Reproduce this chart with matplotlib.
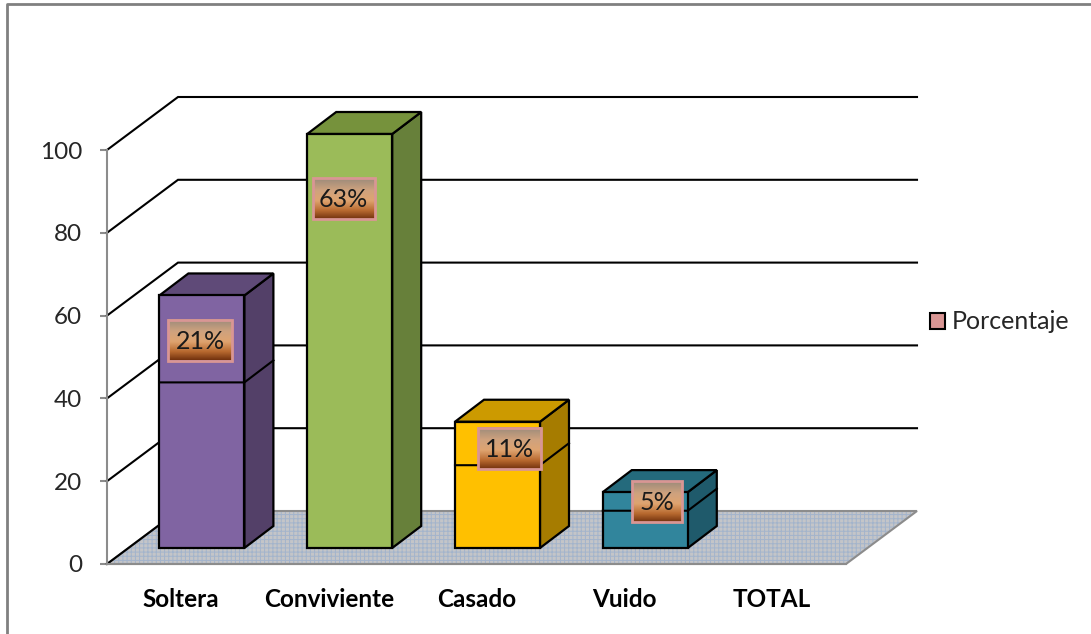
import numpy as np
import matplotlib
matplotlib.use('Agg')
import matplotlib.pyplot as plt
from matplotlib.patches import Polygon, Patch, Rectangle
from matplotlib.colors import LinearSegmentedColormap
from matplotlib.lines import Line2D

plt.rcParams['hatch.linewidth'] = 0.7
plt.rcParams['font.family'] = ['Lato', 'DejaVu Sans']

# valores
categorias = ['Soltera', 'Conviviente', 'Casado', 'Vuido', 'TOTAL']
inferior = [40, 100, 20, 9]
superior = [21, 0, 10.5, 4.5]
etiquetas = ['21%', '63%', '11%', '5%']
ticks_y = [0, 20, 40, 60, 80, 100]

colores = ['#8064a2', '#9bbb59', '#ffc000', '#31859c']
colores_arriba = ['#5f4a78', '#76923c', '#cc9a00', '#246a7c']
colores_lado = ['#534068', '#67803a', '#a67c00', '#1f5a6b']

W, H = 1091, 634
fig = plt.figure(figsize=(W / 100, H / 100), dpi=100)
ax = fig.add_axes([107 / W, 1 - 564 / H, 739 / W, 414 / H])
ax.set_xlim(0, 5)
ax.set_ylim(0, 100)

# pixeles a unidades de datos
PX = 5 / 739
PY = 100 / 414
prof_x, prof_y = 71 * PX, 53 * PY


def caja(i, v0, v1, ancho=85 * PX):
    x0 = i + 0.5 + 21 * PX - ancho / 2
    return x0, x0 + ancho, 16 * PY + v0, 16 * PY + v1


# suelo
suelo = [(0, 0), (5, 0), (5 + prof_x, prof_y), (prof_x, prof_y)]
ax.add_patch(Polygon(suelo, closed=True, facecolor='#c4c5c8', edgecolor='#a3b4cc', hatch='||||----',
                     lw=0, clip_on=False, zorder=1))
ax.add_patch(Polygon(suelo, closed=True, facecolor='none', edgecolor='#8c8c8c', lw=1.5,
                     clip_on=False, zorder=1.5))
ax.plot([0, prof_x], [0, prof_y], color='black', lw=1.5, clip_on=False, zorder=2)

# lineas de la pared
for v in ticks_y[1:]:
    ax.plot([0, prof_x, 5 + prof_x], [v, v + prof_y, v + prof_y], color='black', lw=1.5,
            clip_on=False, solid_joinstyle='miter', zorder=2)

# barras 3d
dx, dy = 29 * PX, 22 * PY
for i in range(len(inferior)):
    tope = inferior[i] + superior[i]
    x0, x1, y0, y1 = caja(i, 0, tope)
    ax.add_patch(Polygon([(x1, y0), (x1 + dx, y0 + dy), (x1 + dx, y1 + dy), (x1, y1)], closed=True,
                         facecolor=colores_lado[i], edgecolor='black', lw=1.6, clip_on=False, zorder=3))
    ax.add_patch(Polygon([(x0, y1), (x1, y1), (x1 + dx, y1 + dy), (x0 + dx, y1 + dy)], closed=True,
                         facecolor=colores_arriba[i], edgecolor='black', lw=1.6, clip_on=False, zorder=3))
    ax.add_patch(Rectangle((x0, y0), x1 - x0, y1 - y0, facecolor=colores[i], edgecolor='black',
                           lw=1.6, clip_on=False, zorder=3))
    if superior[i] > 0:
        ym = y0 + inferior[i]
        ax.plot([x0, x1, x1 + dx], [ym, ym, ym + dy], color='black', lw=1.5, clip_on=False, zorder=3.5)

# etiquetas con degradado
grad = LinearSegmentedColormap.from_list('g', [(0, '#9c8b7a'), (0.3, '#cfa27e'), (0.55, '#dfa470'),
                                               (0.8, '#b8692f'), (1, '#74330f')])
centro_x = [200, 343.5, 509.5, 656.5]
centro_y = [340, 198, 448, 501.5]
ancho_et = [64, 62, 63, 50]
for i, txt in enumerate(etiquetas):
    cx = (centro_x[i] - 107) * PX
    cy = (564 - centro_y[i]) * PY
    w, h = ancho_et[i] * PX / 2, 20.5 * PY
    ax.imshow(np.linspace(0, 1, 64).reshape(-1, 1), cmap=grad, aspect='auto', origin='upper',
              extent=[cx - w, cx + w, cy - h, cy + h], zorder=4, clip_on=False, interpolation='bilinear')
    ax.add_patch(Rectangle((cx - w, cy - h), 2 * w, 2 * h, facecolor='none', edgecolor='#d99694',
                           lw=2, clip_on=False, zorder=4.5))
    ax.text(cx, cy - 1.5 * PY, txt, ha='center', va='center', fontsize=18, color='#1a1a1a', zorder=5)
ax.set_xlim(0, 5)
ax.set_ylim(0, 100)

# ejes
ax.patch.set_visible(False)
for s in ['top', 'right']:
    ax.spines[s].set_visible(False)
for s in ['left', 'bottom']:
    ax.spines[s].set_color('#8c8c8c')
    ax.spines[s].set_linewidth(1.5)
ax.set_yticks(ticks_y)
ax.tick_params(axis='y', length=5, width=1.5, color='#8c8c8c', labelsize=17.5, labelcolor='#262626', pad=13)
ax.set_xticks(np.arange(5) + 0.5)
ax.set_xticklabels(categorias, fontweight='bold', fontsize=17.5, color='black')
ax.tick_params(axis='x', length=0, pad=17)

# leyenda
ax.legend(handles=[Patch(facecolor='#d99694', edgecolor='black', lw=1.5, label='Porcentaje')],
          loc='center left', bbox_to_anchor=(930 / W, 1 - 322 / H), bbox_transform=fig.transFigure,
          frameon=False, fontsize=18, handlelength=0.6, handleheight=0.6, handletextpad=0.28,
          borderaxespad=0, borderpad=0, labelcolor='#262626')

# marco de la imagen
fig.add_artist(Line2D([7 / W, 7 / W, 1], [0, 1 - 4 / H, 1 - 4 / H], color='#808080', lw=2))

fig.savefig('out.png', dpi=100)
